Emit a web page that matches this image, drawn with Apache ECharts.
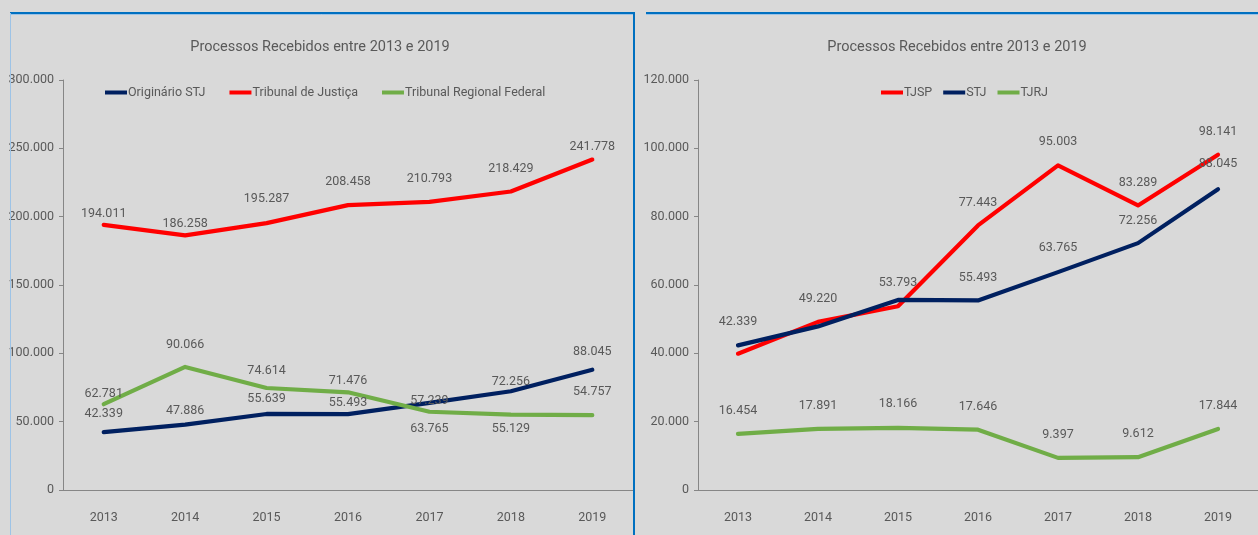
<!DOCTYPE html>
<html><head><meta charset="utf-8">
<script src="https://cdn.jsdelivr.net/npm/echarts@6/dist/echarts.min.js"></script>
<style>html,body{margin:0;padding:0;background:#d9d9d9}#c{width:1258px;height:535px}</style>
</head><body><div id="c"></div>
<script>
// ---- data ----
const years = ['2013','2014','2015','2016','2017','2018','2019'];
const titleText = 'Processos Recebidos entre 2013 e 2019';
// left chart
const leftNames = ['Originário STJ','Tribunal de Justiça','Tribunal Regional Federal'];
const originarioSTJ = [42339, 47886, 55639, 55493, 63765, 72256, 88045];
const tribunalJustica = [194011, 186258, 195287, 208458, 210793, 218429, 241778];
const tribunalRegionalFederal = [62781, 90066, 74614, 71476, 57239, 55129, 54757];
// right chart
const rightNames = ['TJSP','STJ','TJRJ'];
const tjsp = [39900, 49220, 53793, 77443, 95003, 83289, 98141];
const stj = [42339, 47886, 55639, 55493, 63765, 72256, 88045];
const tjrj = [16454, 17891, 18166, 17646, 9397, 9612, 17844];
const leftTicks = {min: 0, max: 300000, interval: 50000};
const rightTicks = {min: 0, max: 120000, interval: 20000};

// ---- styling ----
const FONT = "Roboto,'Liberation Sans',sans-serif";
const FS = 12.5;
const TXT = '#595959';
const NAVY = '#002060', RED = '#ff0000', GREEN = '#70ad47';
const fmt = v => String(Math.round(v)).replace(/\B(?=(\d{3})+(?!\d))/g, '.');

// label lift in px (centre of label above(+)/below(-) the point); null = hidden
function items(values, lifts) {
  return values.map((v, i) => {
    const l = lifts[i];
    if (l === null) return {value: v, label: {show: false}};
    return {value: v, label: {show: true, position: l >= 0 ? 'top' : 'bottom', distance: Math.max(0, Math.abs(l) - 6.5)}};
  });
}
function line(name, color, data, xi) {
  return {
    type: 'line', name, xAxisIndex: xi, yAxisIndex: xi, data,
    symbol: 'circle', symbolSize: 0.01, showSymbol: true,
    lineStyle: {color, width: 4.2, cap: 'round', join: 'round'},
    itemStyle: {color},
    label: {show: true, formatter: p => fmt(p.value), color: TXT, fontFamily: FONT, fontSize: FS},
    labelLayout: {hideOverlap: false},
    emphasis: {disabled: true}, animation: false
  };
}
function xAxis(gi) {
  return {type: 'category', gridIndex: gi, data: years, boundaryGap: true,
    axisLine: {lineStyle: {color: '#868686', width: 1}}, axisTick: {show: false},
    axisLabel: {color: TXT, fontFamily: FONT, fontSize: FS, margin: 21}};
}
function yAxis(gi, t) {
  return {type: 'value', gridIndex: gi, min: t.min, max: t.max, interval: t.interval,
    splitLine: {show: false},
    axisLine: {show: true, lineStyle: {color: '#868686', width: 1}},
    axisTick: {show: true, length: 4, lineStyle: {color: '#868686'}},
    axisLabel: {color: TXT, fontFamily: FONT, fontSize: FS, margin: 9, formatter: fmt}};
}
const legendCommon = {icon: 'rect', itemWidth: 22, itemHeight: 4, top: 81,
  textStyle: {color: TXT, fontFamily: FONT, fontSize: FS, padding: [0, 0, 0, -4]}};

const chart = echarts.init(document.getElementById('c'), null, {renderer: 'canvas'});
chart.setOption({
  backgroundColor: '#d9d9d9',
  animation: false,
  title: [
    {text: titleText, left: 315, textAlign: 'center', top: 35, textStyle: {color: TXT, fontFamily: FONT, fontSize: 14.5, fontWeight: 'normal'}},
    {text: titleText, left: 952, textAlign: 'center', top: 35, textStyle: {color: TXT, fontFamily: FONT, fontSize: 14.5, fontWeight: 'normal'}}
  ],
  legend: [
    Object.assign({}, legendCommon, {data: leftNames, left: 100, itemGap: 24}),
    Object.assign({}, legendCommon, {data: rightNames, left: 876, itemGap: 11})
  ],
  grid: [
    {left: 63, top: 80, width: 570, height: 410},
    {left: 698, top: 80, width: 572, height: 410}
  ],
  xAxis: [xAxis(0), xAxis(1)],
  yAxis: [yAxis(0, leftTicks), yAxis(1, rightTicks)],
  series: [
    line(leftNames[0], NAVY, items(originarioSTJ, [18, 14, 15, 11, -26, 9, 18]), 0),
    line(leftNames[1], RED, items(tribunalJustica, [11, 12, 24, 23, 23, 23, 13]), 0),
    line(leftNames[2], GREEN, items(tribunalRegionalFederal, [10, 22, 17, 11, 11, -14, 23]), 0),
    line(rightNames[0], RED, items(tjsp, [null, 23, 23, 23, 24, 23, 23]), 1),
    line(rightNames[1], NAVY, items(stj, [23, null, null, 23, 24, 22, 25]), 1),
    line(rightNames[2], GREEN, items(tjrj, [23, 23, 24, 23, 23, 23, 23]), 1)
  ],
  graphic: [
    {type: 'line', shape: {x1: 10, y1: 13, x2: 635, y2: 13}, style: {stroke: '#0070c0', lineWidth: 2}, z: 100},
    {type: 'line', shape: {x1: 10, y1: 14.5, x2: 633, y2: 14.5}, style: {stroke: '#9dc3e6', lineWidth: 1}, z: 99},
    {type: 'line', shape: {x1: 10.5, y1: 13, x2: 10.5, y2: 535}, style: {stroke: '#9dc3e6', lineWidth: 1}, z: 100},
    {type: 'line', shape: {x1: 634, y1: 12, x2: 634, y2: 535}, style: {stroke: '#0070c0', lineWidth: 2}, z: 100},
    {type: 'line', shape: {x1: 646, y1: 13, x2: 1258, y2: 13}, style: {stroke: '#0070c0', lineWidth: 2}, z: 100},
    {type: 'line', shape: {x1: 646, y1: 14.5, x2: 1258, y2: 14.5}, style: {stroke: '#9dc3e6', lineWidth: 1}, z: 99}
  ]
});
</script></body></html>
